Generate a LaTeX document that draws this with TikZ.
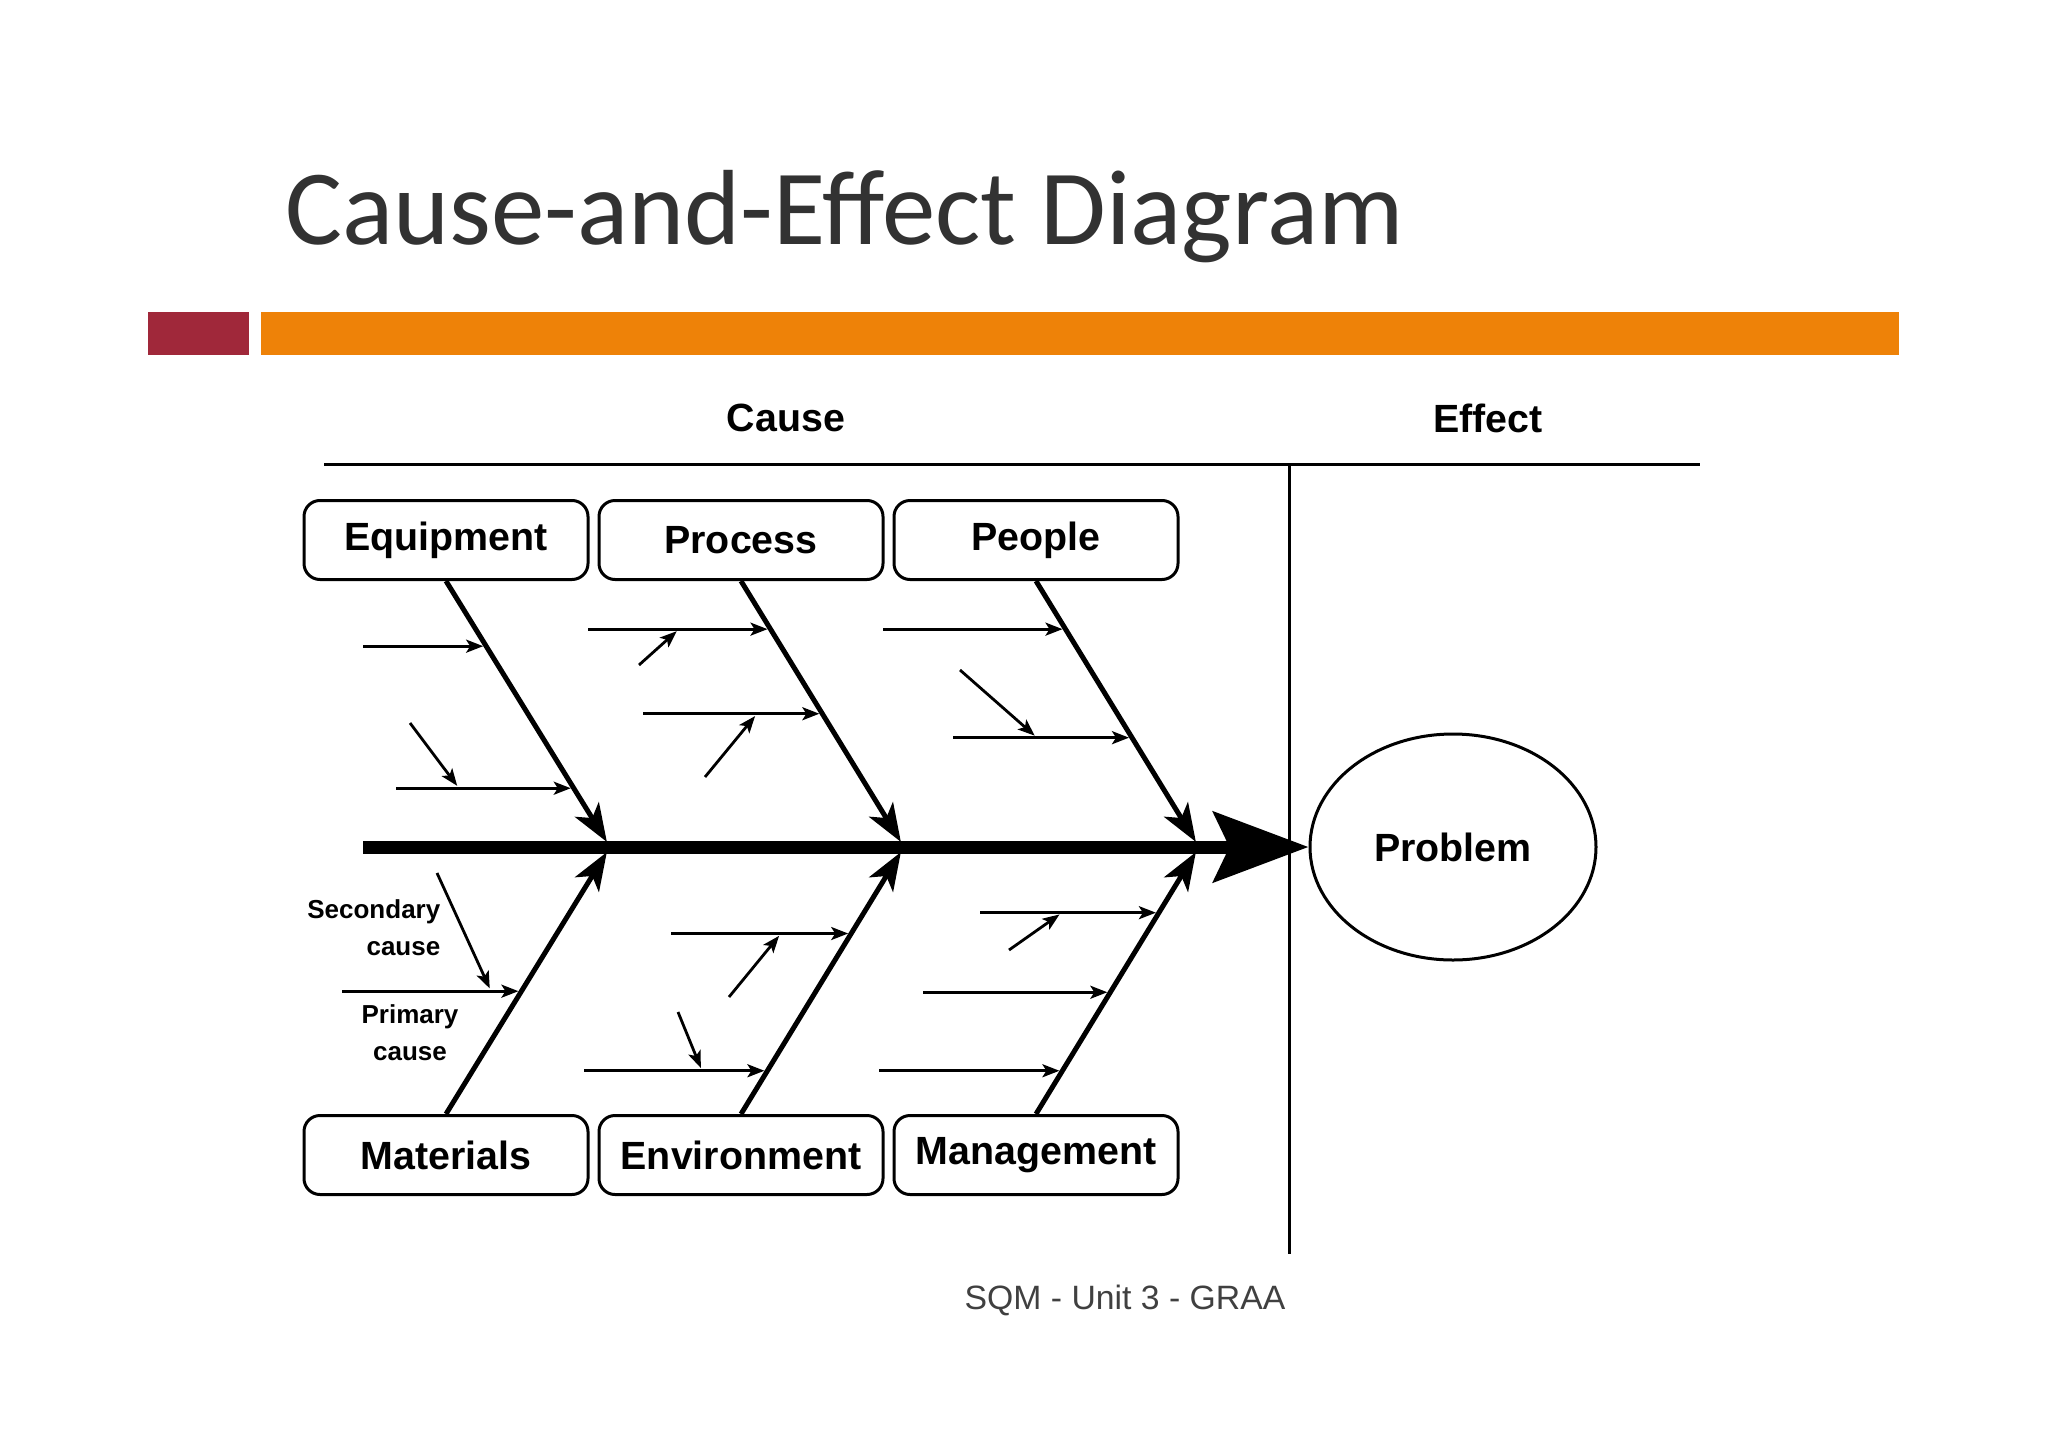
\documentclass[tikz,border=0pt]{standalone}
\usepackage{fontspec}
\setmainfont{Liberation Sans}
\newfontfamily\titlefont{Carlito}
\usetikzlibrary{arrows.meta,shapes.geometric}
\definecolor{titlegray}{RGB}{50,50,50}
\definecolor{footgray}{RGB}{64,64,64}
\definecolor{barred}{RGB}{160,40,58}
\definecolor{barorange}{RGB}{238,130,8}
\begin{document}
\begin{tikzpicture}[x=0.1mm,y=-0.1mm,
  cat/.style={draw,rounded corners=1.6mm,line width=0.3mm,minimum width=28.4mm,minimum height=7.9mm,inner sep=0pt,font=\bfseries\fontsize{11.2}{13}\selectfont},
  rib/.style={line width=0.5mm,-{Stealth[length=3.8mm,width=2.8mm,inset=1mm]},shorten >=0.6mm},
  cause/.style={line width=0.28mm,-{Stealth[length=1.7mm,width=1.3mm,inset=0.4mm]},shorten >=0.3mm},
  note/.style={font=\bfseries\fontsize{7.4}{10.5}\selectfont,inner sep=0pt}]
\useasboundingbox (0,0) rectangle (2048,1448);
\node[anchor=base west,inner sep=0pt,text=titlegray,font=\titlefont\fontsize{30.4}{36}\selectfont] (title) at (285,245) {Cause-and-Effect Diagram};
\fill[barred] (148,312) rectangle (249,355);
\fill[barorange] (261,312) rectangle (1899,355);
\node[font=\bfseries\fontsize{11.2}{13}\selectfont] (causehead) at (786,418) {Cause};
\node[font=\bfseries\fontsize{11.2}{13}\selectfont] (effecthead) at (1488,418) {Effect};
\draw[line width=0.3mm] (324,464) -- (1700,464);
\draw[line width=0.3mm] (1289,464) -- (1289,1254);
\foreach \n/\t/\x in {eq/Equipment/446,pr/Process/741,pe/People/1036} \node[cat] (\n) at (\x,540) {\t};
\foreach \n/\t/\x in {ma/Materials/446,en/Environment/741,mg/Management/1036} \node[cat] (\n) at (\x,1155) {\t};
\node[draw,ellipse,line width=0.3mm,minimum width=28.6mm,minimum height=22.6mm,inner sep=0pt,font=\bfseries\fontsize{11.2}{13}\selectfont] (prob) at (1453,847) {Problem};
\coordinate (tail) at (363,847);
\foreach \n/\x in {j1/610,j2/904,j3/1199} \coordinate (\n) at (\x,847);
\draw[line width=1.3mm,-{Stealth[length=9.5mm,width=7mm,inset=1.6mm]}] (tail) -- (prob.west);
\draw[rib] (eq.south) -- coordinate[pos=.245] (eq1) coordinate[pos=.779] (eq2) (j1);
\draw[rib] (pr.south) -- coordinate[pos=.181] (pr1) coordinate[pos=.499] (pr2) (j2);
\draw[rib] (pe.south) -- coordinate[pos=.181] (pe1) coordinate[pos=.589] (pe2) (j3);
\draw[rib] (ma.north) -- coordinate[pos=.46] (ma1) (j1);
\draw[rib] (en.north) -- coordinate[pos=.676] (en1) coordinate[pos=.162] (en2) (j2);
\draw[rib] (mg.north) -- coordinate[pos=.754] (mg1) coordinate[pos=.456] (mg2) coordinate[pos=.162] (mg3) (j3);
\draw[cause] (363,0 |- eq1) -- (eq1);
\draw[cause] (396,0 |- eq2) -- (eq2);
\draw[cause] (588,0 |- pr1) -- (pr1);
\draw[cause] (643,0 |- pr2) -- (pr2);
\draw[cause] (883,0 |- pe1) -- (pe1);
\draw[cause] (953,0 |- pe2) -- (pe2);
\draw[cause] (342,0 |- ma1) -- (ma1);
\draw[cause] (671,0 |- en1) -- (en1);
\draw[cause] (584,0 |- en2) -- (en2);
\draw[cause] (980,0 |- mg1) -- (mg1);
\draw[cause] (923,0 |- mg2) -- (mg2);
\draw[cause] (879,0 |- mg3) -- (mg3);
\draw[cause] (410,723) -- (459,0 |- eq2);
\draw[cause] (639,665) -- (679,0 |- pr1);
\draw[cause] (705,777) -- (757,0 |- pr2);
\draw[cause] (960,670) -- (1037,0 |- pe2);
\draw[cause] (437,873) -- (491,0 |- ma1);
\draw[cause] (729,997) -- (781,0 |- en1);
\draw[cause] (678,1012) -- (702,0 |- en2);
\draw[cause] (1009,950) -- (1062,0 |- mg1);
\node[note,align=right,anchor=east] (seclabel) at (441,928) {Secondary\\cause};
\node[note,align=center] (primlabel) at (410,1033) {Primary\\cause};
\node[text=footgray,font=\fontsize{9.6}{12}\selectfont] (footer) at (1125,1300) {SQM - Unit 3 - GRAA};
\end{tikzpicture}
\end{document}
